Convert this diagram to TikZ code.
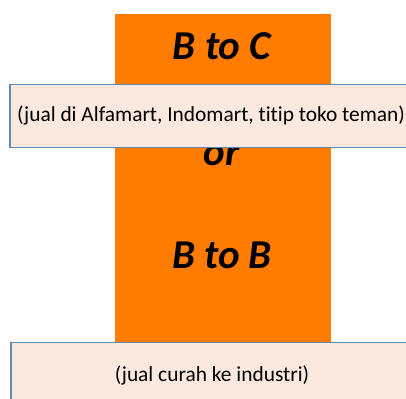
\documentclass[tikz,border=0pt]{standalone}
\usepackage{fontspec}
\setmainfont[Ligatures=NoCommon]{Carlito}
\usetikzlibrary{positioning}
\definecolor{salesorange}{RGB}{255,124,0}
\definecolor{notefill}{RGB}{251,233,223}
\definecolor{noteline}{RGB}{96,138,180}

\begin{document}
\begin{tikzpicture}[x=1pt,y=-1pt,
    channel/.style={font=\fontsize{41}{41}\selectfont\bfseries\itshape},
    note/.style={draw=noteline,line width=1.6pt,fill=notefill,minimum width=402pt,
        inner sep=0pt,font=\fontsize{21.4}{21.4}\selectfont}]
                \clip (0,0) rectangle (406,398);
                \node[fill=salesorange,minimum width=216pt,minimum height=328pt,inner sep=0pt] (bar) at (222.5,178) {};
                \node[channel] (btoc) at (222,46.5) {B to C};
                \node[channel] (or) at (222,156) {or};
                \node[channel] (btob) at (222,255) {B to B};
                \node[note,minimum height=63pt] (retail) at (211,116) {(jual di Alfamart, Indomart, titip toko teman)};
                \node[note,minimum height=66pt] (bulk) at (212,375.5) {(jual curah ke industri)};
            \end{tikzpicture}
\end{document}
